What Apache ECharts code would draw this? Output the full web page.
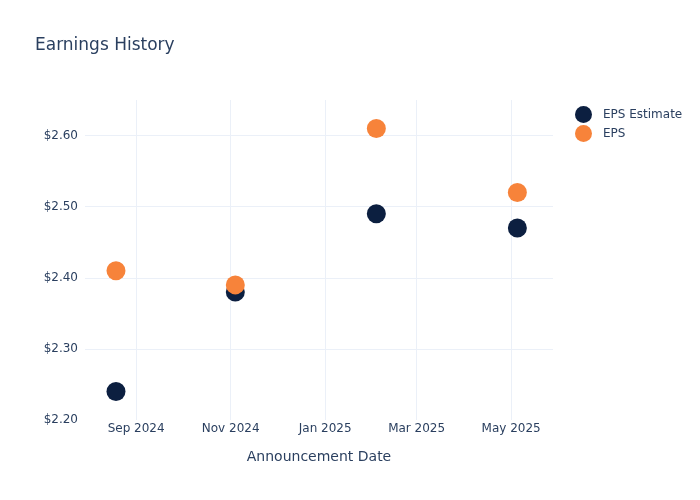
<!DOCTYPE html>
<html>
<head>
<meta charset="utf-8">
<script src="https://cdn.jsdelivr.net/npm/echarts@6/dist/echarts.min.js"></script>
<style>
  html, body { margin: 0; padding: 0; background: #fff; }
  #chart { width: 700px; height: 500px; }
</style>
</head>
<body>
<div id="chart"></div>
<script>
// announcement dates and eps values
const dates = ['2024-08-19', '2024-11-04', '2025-02-03', '2025-05-05'];
const epsEstimate = [2.24, 2.38, 2.49, 2.47];
const epsActual = [2.41, 2.39, 2.61, 2.52];
const xTicks = ['2024-09-01', '2024-11-01', '2025-01-01', '2025-03-01', '2025-05-01'];
const yTicks = [2.2, 2.3, 2.4, 2.5, 2.6];

const font = 'DejaVu Sans, sans-serif';
const ink = '#2a3f5f';
const grid = '#ebf0f8';

const toTime = s => new Date(s + 'T00:00:00').getTime();

const chart = echarts.init(document.getElementById('chart'));
chart.setOption({
  backgroundColor: '#fff',
  animation: false,
  title: {
    text: 'Earnings History',
    left: 30, top: 32,
    textStyle: { color: ink, fontSize: 17, fontWeight: 'normal', fontFamily: font }
  },
  legend: {
    orient: 'vertical',
    left: 575, top: 106,
    padding: 0,
    icon: 'circle',
    itemWidth: 17, itemHeight: 17, itemGap: 2,
    textStyle: { color: ink, fontSize: 12, fontFamily: font, padding: [0, 0, 0, 6] }
  },
  grid: { left: 85, right: 147, top: 100, bottom: 80 },
  xAxis: {
    type: 'time',
    min: toTime('2024-07-30'),
    max: toTime('2025-05-28'),
    name: 'Announcement Date',
    nameLocation: 'middle',
    nameGap: 30,
    nameTextStyle: { color: ink, fontSize: 14, fontFamily: font },
    axisLine: { show: false },
    axisTick: { show: false, customValues: xTicks.map(toTime) },
    axisLabel: {
      customValues: xTicks.map(toTime),
      formatter: '{MMM} {yyyy}',
      color: ink, fontSize: 12, fontFamily: font, margin: 3
    },
    splitLine: { show: true, lineStyle: { color: grid, width: 1 } }
  },
  yAxis: {
    type: 'value',
    min: 2.2, max: 2.65,
    axisLine: { show: false },
    axisTick: { show: false, customValues: yTicks },
    axisLabel: {
      customValues: yTicks,
      formatter: v => '$' + v.toFixed(2),
      color: ink, fontSize: 12, fontFamily: font, margin: 7
    },
    splitLine: { show: true, showMinLine: false, lineStyle: { color: grid, width: 1 } }
  },
  series: [
    {
      name: 'EPS Estimate', type: 'scatter', symbolSize: 19,
      itemStyle: { color: '#0c1f40', opacity: 1 },
      data: dates.map((d, i) => [toTime(d), epsEstimate[i]])
    },
    {
      name: 'EPS', type: 'scatter', symbolSize: 19,
      itemStyle: { color: '#f7833a', opacity: 1 },
      data: dates.map((d, i) => [toTime(d), epsActual[i]])
    }
  ]
});
</script>
</body>
</html>
